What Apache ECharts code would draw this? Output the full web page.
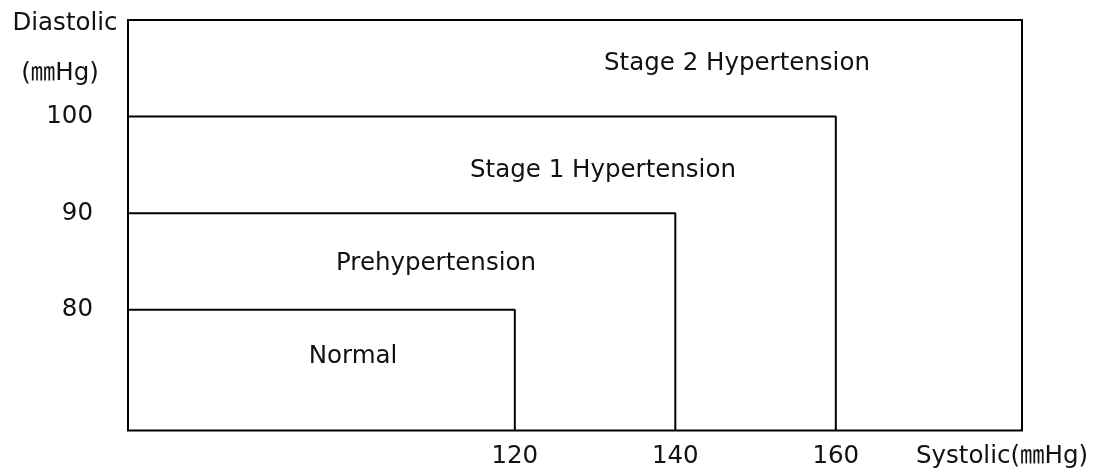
<!DOCTYPE html>
<html>
<head>
<meta charset="utf-8">
<script src="https://cdn.jsdelivr.net/npm/echarts@6/dist/echarts.min.js"></script>
<style>html,body{margin:0;padding:0;background:#fff}#c{width:1096px;height:469px}</style>
</head>
<body>
<div id="c"></div>
<script>
// Data
const categories = ['Normal', 'Prehypertension', 'Stage 1 Hypertension', 'Stage 2 Hypertension'];
const systolicLimits = [120, 140, 160];
const diastolicLimits = [80, 90, 100];
const xTickLabels = [120, 140, 160];
const yTickLabels = [80, 90, 100];
const xRange = [71.8, 183.2];
const yRange = [67.5, 110];

const FONT = '"DejaVu Sans", "Noto Sans CJK KR", sans-serif';
const FS = 24.5;
const chart = echarts.init(document.getElementById('c'));

const stepSeries = systolicLimits.map((s, i) => ({
  type: 'line',
  symbol: 'none',
  silent: true,
  lineStyle: { color: '#000', width: 2 },
  data: [[xRange[0], diastolicLimits[i]], [s, diastolicLimits[i]], [s, yRange[0]]]
}));

// label anchor positions (pixel) for region names
const labelPos = [[353, 357], [436, 264], [603, 171], [737, 64]];

chart.setOption({
  animation: false,
  grid: { left: 128, right: 74, top: 20, bottom: 38, show: true, borderColor: '#000', borderWidth: 2, backgroundColor: 'transparent' },
  xAxis: {
    type: 'value', min: xRange[0], max: xRange[1],
    axisLine: { show: false }, axisTick: { show: false }, splitLine: { show: false },
    axisLabel: { customValues: xTickLabels, margin: 14, fontSize: FS, color: '#111', fontFamily: FONT }
  },
  yAxis: {
    type: 'value', min: yRange[0], max: yRange[1],
    axisLine: { show: false }, axisTick: { show: false }, splitLine: { show: false },
    axisLabel: { customValues: yTickLabels, margin: 35, fontSize: FS, color: '#111', fontFamily: FONT, padding: [5, 0, 0, 0] }
  },
  series: stepSeries,
  graphic: [
    { type: 'text', x: 65, y: 24, style: { text: 'Diastolic', fontSize: FS, fill: '#111', fontFamily: FONT, align: 'center', verticalAlign: 'middle' } },
    { type: 'text', x: 60, y: 74, style: { text: '(㎜Hg)', fontSize: FS, fill: '#111', fontFamily: FONT, align: 'center', verticalAlign: 'middle' } },
    { type: 'text', x: 1002, y: 457, style: { text: 'Systolic(㎜Hg)', fontSize: FS, fill: '#111', fontFamily: FONT, align: 'center', verticalAlign: 'middle' } }
  ].concat(categories.map((c, i) => ({
    type: 'text', x: labelPos[i][0], y: labelPos[i][1],
    style: { text: c, fontSize: FS, fill: '#111', fontFamily: FONT, align: 'center', verticalAlign: 'middle' }
  })))
});
</script>
</body>
</html>
